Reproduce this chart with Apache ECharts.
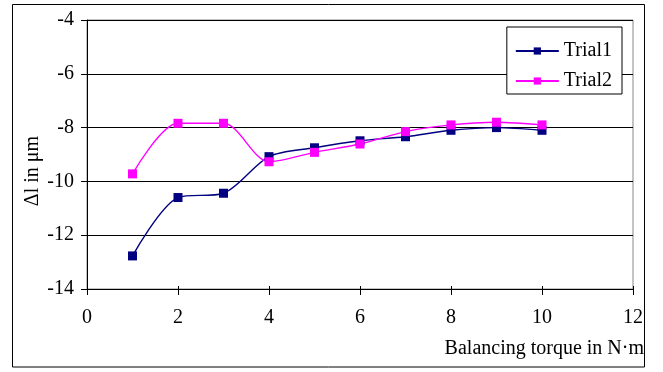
<!DOCTYPE html>
<html><head><meta charset="utf-8">
<script src="https://cdn.jsdelivr.net/npm/echarts@6/dist/echarts.min.js"></script>
<style>html,body{margin:0;padding:0;background:#fff;}#c{width:663px;height:372px;}</style>
</head><body><div id="c"></div>
<script>
var torque = [1, 2, 3, 4, 5, 6, 7, 8, 9, 10];
var trial1 = [-12.77, -10.6, -10.44, -9.08, -8.75, -8.49, -8.34, -8.1, -8.0, -8.1];
var trial2 = [-9.72, -7.84, -7.84, -9.27, -8.92, -8.61, -8.15, -7.9, -7.8, -7.9];
var seriesNames = ['Trial1', 'Trial2'];
var xTicks = [0, 2, 4, 6, 8, 10, 12];
var yTicks = [-14, -12, -10, -8, -6, -4];
var xName = 'Balancing torque in N·m';
var yName = 'Δl in μm';

var font = '"Liberation Serif", "Times New Roman", serif';
var chart = echarts.init(document.getElementById('c'), null, {renderer: 'canvas'});
function pairs(xs, ys){ return xs.map(function(x,i){return [x, ys[i]];}); }
var xMin = xTicks[0], xMax = xTicks[xTicks.length-1];
var yMin = yTicks[0], yMax = yTicks[yTicks.length-1];
chart.setOption({
  animation: false,
  backgroundColor: '#fff',
  textStyle: {fontFamily: font},
  title: {text: xName, right: 19, top: 339, padding: 0,
          textStyle: {fontFamily: font, fontSize: 20, fontWeight: 'normal', color: '#000'}},
  graphic: [
    {type: 'rect', shape: {x: 12.5, y: 4.5, width: 632, height: 362.5}, style: {fill: 'none', stroke: '#000', lineWidth: 1}, z: -1},
    {type: 'text', x: 33, y: 171, rotation: Math.PI / 2,
     style: {text: yName, font: '20px ' + font, fill: '#000', textAlign: 'center', textVerticalAlign: 'middle'}}
  ],
  grid: {left: 87, right: 30, top: 20, bottom: 83, show: true, borderColor: '#888', borderWidth: 1},
  legend: {
    right: 41, top: 27, orient: 'vertical', itemGap: 10, itemWidth: 43, itemHeight: 9,
    padding: [14, 10, 3, 8],
    borderColor: '#000', borderWidth: 1, backgroundColor: '#fff',
    textStyle: {fontFamily: font, fontSize: 20, lineHeight: 20, color: '#000'},
    data: seriesNames
  },
  xAxis: [{
    type: 'value', min: xMin, max: xMax, interval: 2, position: 'bottom',
    axisLine: {show: true, onZero: false, lineStyle: {color: '#000', width: 1}},
    axisTick: {show: true, inside: false, length: 6, lineStyle: {color: '#000'}},
    axisLabel: {fontFamily: font, fontSize: 20, color: '#000', margin: 19},
    splitLine: {show: false}
  }, {
    type: 'value', min: xMin, max: xMax, interval: 2, position: 'bottom',
    axisLine: {show: false},
    axisTick: {show: true, inside: true, length: 3, lineStyle: {color: '#000'}},
    axisLabel: {show: false}, splitLine: {show: false}
  }],
  yAxis: [{
    type: 'value', min: yMin, max: yMax, interval: 2, position: 'left',
    axisLine: {show: true, onZero: false, lineStyle: {color: '#000', width: 1}},
    axisTick: {show: true, inside: false, length: 6, lineStyle: {color: '#000'}},
    axisLabel: {fontFamily: font, fontSize: 20, color: '#000', margin: 13},
    splitLine: {show: true, lineStyle: {color: '#000', width: 1}}
  }, {
    type: 'value', min: yMin, max: yMax, interval: 2, position: 'left',
    axisLine: {show: false},
    axisTick: {show: true, inside: true, length: 3, lineStyle: {color: '#000'}},
    axisLabel: {show: false}, splitLine: {show: false}
  }],
  series: [
    {name: seriesNames[0], type: 'line', data: pairs(torque, trial1), smooth: 0.3,
     xAxisIndex: 0, yAxisIndex: 0,
     symbol: 'rect', symbolSize: 9, color: '#000080', lineStyle: {width: 1.4, color: '#000080'},
     itemStyle: {color: '#000080'}},
    {name: seriesNames[1], type: 'line', data: pairs(torque, trial2), smooth: 0.3,
     xAxisIndex: 0, yAxisIndex: 0,
     symbol: 'rect', symbolSize: 9, color: '#FF00FF', lineStyle: {width: 1.4, color: '#FF00FF'},
     itemStyle: {color: '#FF00FF'}}
  ]
});
</script></body></html>
